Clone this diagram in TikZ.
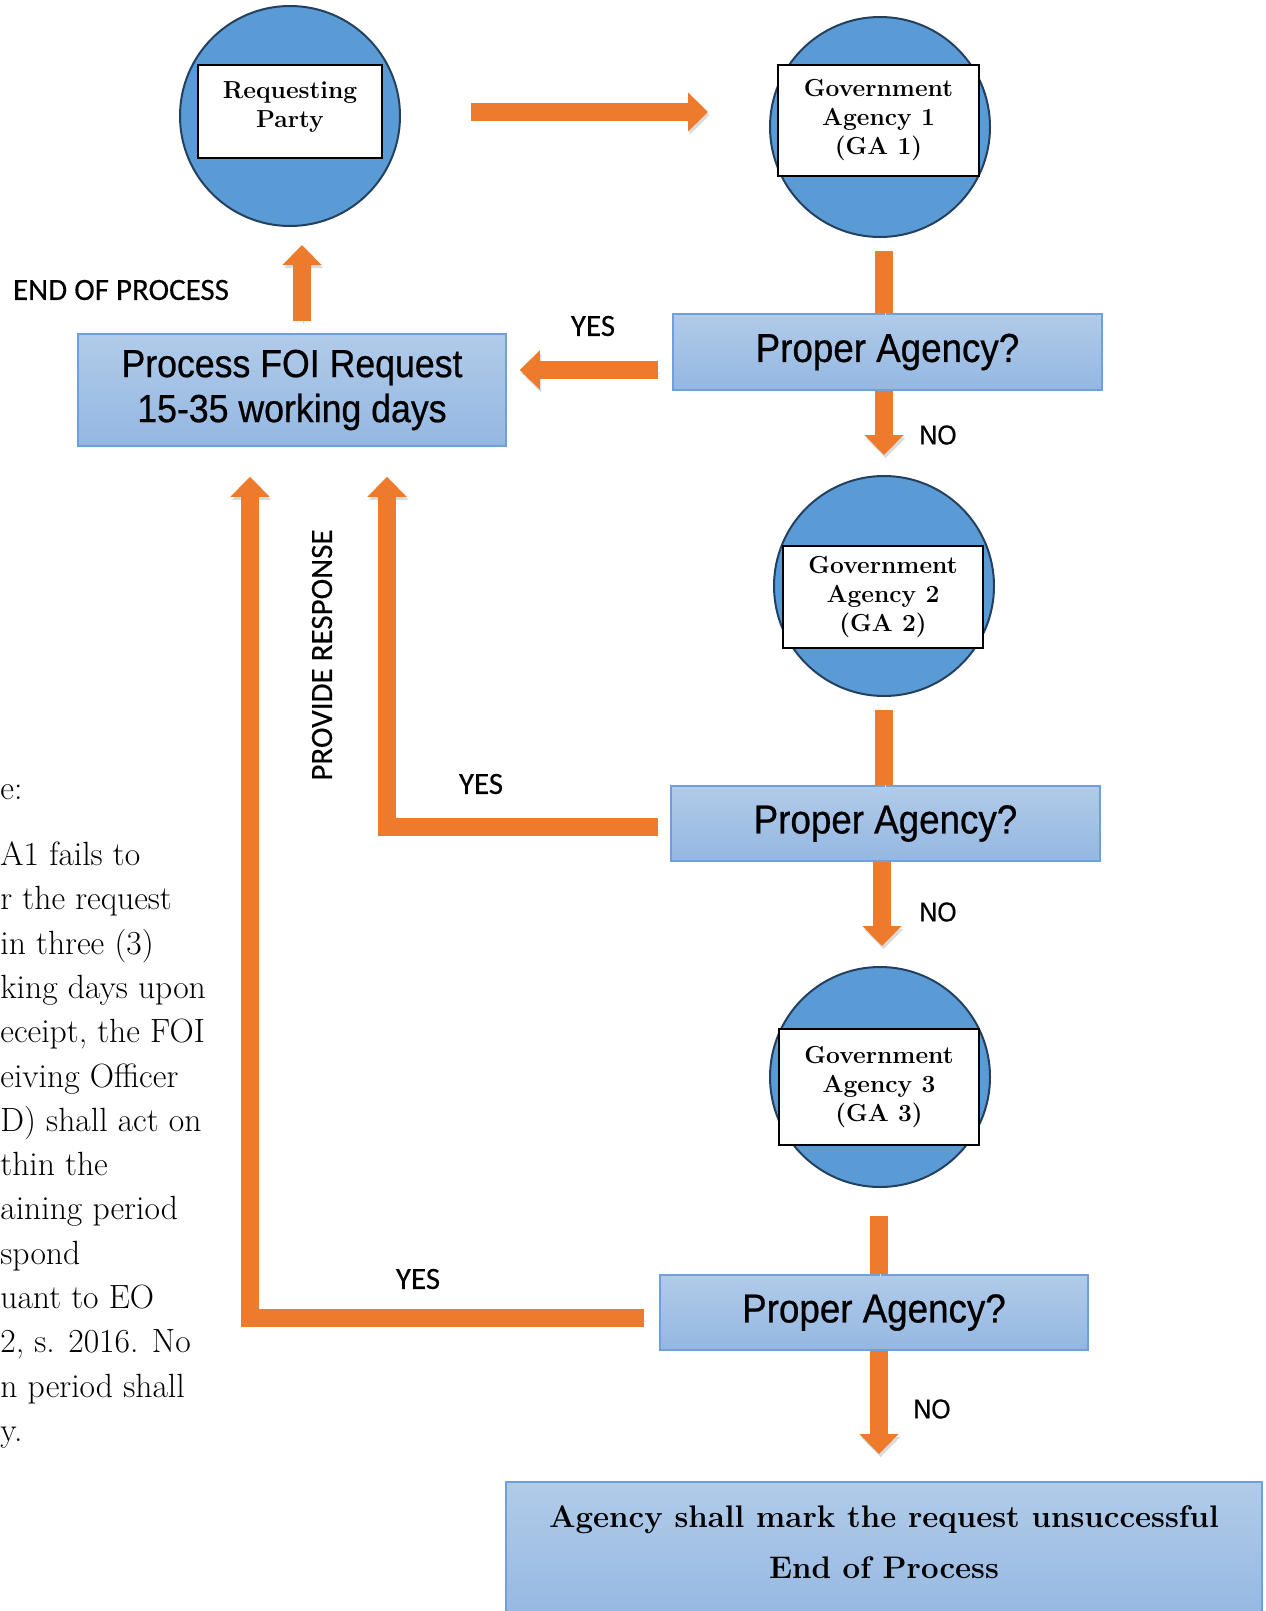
\documentclass[tikz,border=0pt]{standalone}
\usepackage{fontspec}
\usetikzlibrary{arrows.meta,calc,positioning}
\newfontfamily\arialfont[FakeStretch=0.91,FakeBold=0.6]{Liberation Sans}
\newfontfamily\calibrifont[FakeBold=0.3]{Carlito}
\definecolor{circfill}{HTML}{5B9BD5}
\definecolor{circline}{HTML}{23405F}
\definecolor{boxline}{HTML}{6FA0DC}
\definecolor{boxtop}{HTML}{B1CBE9}
\definecolor{boxbot}{HTML}{94B7E1}
\definecolor{arrorange}{HTML}{EE7B2C}
\begin{document}
\begin{tikzpicture}[x=0.5pt, y=-0.5pt,
  agency/.style={circle, fill=circfill, draw=circline, line width=1pt, minimum size=110pt, inner sep=0pt},
  namebox/.style={rectangle, fill=white, draw=black, line width=0.75pt, inner sep=0pt, align=center, font=\bfseries\fontsize{12.3}{14.5}\selectfont\addfontfeatures{FakeBold=0.5}},
  decision/.style={rectangle, draw=boxline, line width=0.75pt, top color=boxtop, bottom color=boxbot, inner sep=0pt, align=center, font=\arialfont\fontsize{20.2}{22.5}\selectfont},
  flow/.style={draw=arrorange, line width=9pt, -{Triangle[width=19pt,length=10pt]},
    preaction={draw=black!14, transform canvas={shift={(0.8pt,-1.6pt)}}}},
  stem/.style={draw=arrorange, line width=9pt,
    preaction={draw=black!14, transform canvas={shift={(0.8pt,-1.6pt)}}}},
  answer/.style={font=\calibrifont\fontsize{15.5}{18}\selectfont},
  nolabel/.style={font=\arialfont\fontsize{13.6}{15}\selectfont}]
\useasboundingbox (0,0) rectangle (1265,1611);

\node[agency] (rp) at (290,116) {};
\node[namebox, minimum width=92pt, minimum height=46.5pt, text depth=7pt] (rpbox) at (290,111.5) {Requesting\\Party};
\node[agency] (ga1) at (880,127) {};
\node[namebox, minimum width=100.5pt, minimum height=55.5pt] (ga1box) at (878.5,120.5) {Government\\Agency 1\\(GA 1)};
\node[agency] (ga2) at (884,586) {};
\node[namebox, minimum width=100pt, minimum height=51pt] (ga2box) at (883,597) {Government\\Agency 2\\(GA 2)};
\node[agency] (ga3) at (880,1077) {};
\node[namebox, minimum width=100pt, minimum height=58pt] (ga3box) at (879,1087) {Government\\Agency 3\\(GA 3)};

\node[decision, minimum width=214.5pt, minimum height=38pt] (pa1) at (887.5,352) {Proper Agency?};
\node[decision, minimum width=214.5pt, minimum height=37.5pt] (pa2) at (885.5,823.5) {Proper Agency?};
\node[decision, minimum width=214pt, minimum height=37.5pt] (pa3) at (874,1312.5) {Proper Agency?};
\node[decision, minimum width=214pt, minimum height=56pt, font=\arialfont\fontsize{19.6}{22.5}\selectfont] (pf) at (292,390) {Process FOI Request\\15-35 working days};
\node[decision, anchor=north, minimum width=378pt, minimum height=72pt, text depth=12pt, font=\bfseries\fontsize{15.6}{25.5}\selectfont\addfontfeatures{FakeBold=0.5}] (final) at (884,1481) {Agency shall mark the request unsuccessful\\End of Process};

\draw[flow] ($(rp.east)+(70,-4)$) -- ($(ga1.west)+(-61,-15)$);
\draw[stem] ($(ga1.south)+(4,13)$) -- ($(pa1.north)+(-3.5,0)$);
\draw[flow] ($(pa1.west)+(-14,18)$) -- ($(pf.east)+(13,-20)$);
\draw[flow] ($(pf.north)+(10,-12)$) -- ($(rp.south)+(12,18)$);
\draw[flow] ($(pa1.south)+(-3.5,0)$) -- ($(ga2.north)+(0,-20)$);
\draw[stem] ($(ga2.south)+(0,13)$) -- ($(pa2.north)+(-1.5,0)$);
\draw[flow] ($(pa2.west)+(-12,3.5)$) -| ($(pf.south)+(95,30)$);
\draw[flow] ($(pa2.south)+(-3.5,0)$) -- ($(ga3.north)+(2,-20)$);
\draw[stem] ($(ga3.south)+(-1,28)$) -- ($(pa3.north)+(5,0)$);
\draw[flow] ($(pa3.west)+(-15,5.5)$) -| ($(pf.south)+(-42,30)$);
\draw[flow] ($(pa3.south)+(5,0)$) -- ($(final.north)+(-5,-27)$);

\node[answer] (endlbl) at (121,290) {END OF PROCESS};
\node[answer] (yes1) at (593,326) {YES};
\node[answer] (yes2) at (481,784) {YES};
\node[answer] (yes3) at (418,1279) {YES};
\node[answer, rotate=90] (resp) at (322,655) {PROVIDE RESPONSE};
\node[nolabel] (no1) at (938,435) {NO};
\node[nolabel] (no2) at (938,912) {NO};
\node[nolabel] (no3) at (932,1409) {NO};

\node[anchor=north west, inner sep=0pt, align=left, font=\fontsize{16.8}{22.15}\selectfont\addfontfeatures{FakeBold=0.4}] (note) at (0,784) {e:\\[11pt]A1 fails to\\r the request\\in three (3)\\king days upon\\eceipt, the FOI\\eiving Officer\\D) shall act on\\thin the\\aining period\\spond\\uant to EO\\2, s. 2016. No\\n period shall\\y.};
\end{tikzpicture}
\end{document}
